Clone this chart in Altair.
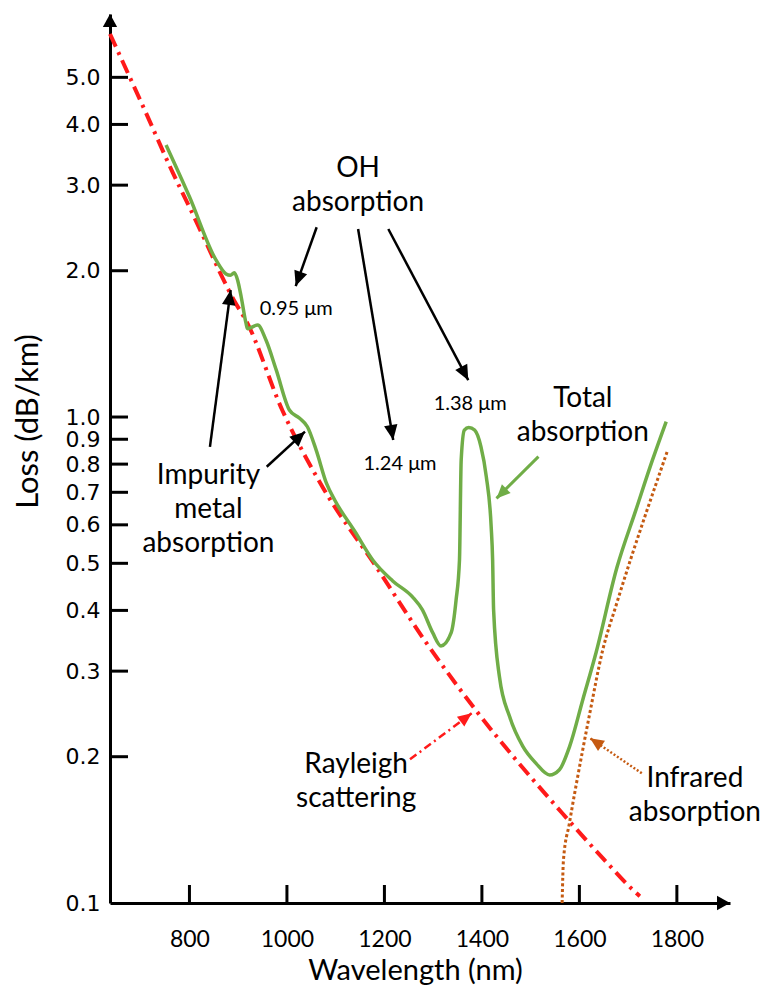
import math
import altair as alt
import pandas as pd

# ---------------- data ----------------
# Total absorption (green curve)
total_nm = [752, 800, 855, 875, 884, 892, 899, 906, 916, 919, 940, 957, 978,
            1005, 1026, 1042, 1060, 1081, 1098, 1140, 1176, 1217, 1258, 1278, 1299,
            1316, 1337, 1347, 1354, 1357.5, 1364, 1373, 1385, 1398, 1409, 1419,
            1422, 1424, 1436, 1457, 1484, 1511, 1539, 1559, 1580, 1607, 1634,
            1677, 1716, 1750, 1778]
total_loss = [3.63, 2.84, 2.10, 1.97, 1.957, 1.98, 1.91, 1.77, 1.56, 1.52, 1.546,
              1.44, 1.25, 1.034, 0.994, 0.955, 0.855, 0.731, 0.675, 0.580, 0.508,
              0.460, 0.426, 0.401, 0.360, 0.338, 0.360, 0.420, 0.508, 0.816, 0.940,
              0.952, 0.940, 0.869, 0.754, 0.595, 0.508, 0.401, 0.292, 0.2416,
              0.210, 0.1938, 0.1834, 0.188, 0.210, 0.262, 0.327, 0.490, 0.644,
              0.816, 0.978]

# Rayleigh scattering (red dash-dot)
rayleigh_nm = [637, 711, 766, 801, 832, 863, 894, 916, 991, 1073, 1183, 1286, 1388,
               1565, 1647, 1716, 1724]
rayleigh_loss = [6.14, 4.22, 3.18, 2.69, 2.31, 1.98, 1.72, 1.58, 1.03, 0.718, 0.492,
                 0.343, 0.249, 0.153, 0.124, 0.105, 0.1033]

# Infrared absorption (brown dotted)
infrared_nm = [1564.6, 1567.3, 1579.6, 1606.8, 1620.6, 1647.9, 1675.4, 1704.7,
               1733.4, 1764.2, 1781.2]
infrared_loss = [0.1, 0.1226, 0.146, 0.2065, 0.2436, 0.3316, 0.410, 0.508, 0.620,
                 0.763, 0.855]

# axis ticks
x_ticks = [800, 1000, 1200, 1400, 1600, 1800]
y_labels = [0.1, 0.2, 0.3, 0.4, 0.5, 0.6, 0.7, 0.8, 0.9, 1.0, 2.0, 3.0, 4.0, 5.0]
y_ticks = [0.2, 0.3, 0.4, 0.5, 0.6, 0.7, 0.8, 0.9, 1.0, 2.0, 3.0, 4.0, 5.0]

# annotations (data coordinates: nm, dB/km)
big_text = ["OH\nabsorption", "Impurity\nmetal\nabsorption", "Total\nabsorption",
            "Rayleigh\nscattering", "Infrared\nabsorption"]
big_text_nm = [1146, 839, 1607, 1142, 1837]
big_text_loss = [3.118, 0.728, 1.048, 0.1851, 0.1733]

small_text = ["0.95 μm", "1.24 μm", "1.38 μm"]
small_text_nm = [1019, 1232, 1376]
small_text_loss = [1.621, 0.778, 1.034]

# arrows: start -> tip
arrow_style = ["black", "black", "black", "black", "black", "green", "red", "brown"]
arrow_nm1 = [1061, 1146, 1208, 842, 958.5, 1516, 1252.5, 1728]
arrow_loss1 = [2.457, 2.437, 2.437, 0.868, 0.790, 0.829, 0.1975, 0.1849]
arrow_nm2 = [1018, 1218, 1372, 884.6, 1037, 1430, 1379, 1622]
arrow_loss2 = [1.860, 0.897, 1.191, 1.825, 0.933, 0.680, 0.2456, 0.2183]

# ---------------- layout helpers ----------------
W, H = 620, 889
XMIN, XMAX = 637, 1909
YMIN, YMAX = 0.1, 6.75

GREEN = "#70ad47"
RED = "#ff1a1a"
BROWN = "#c55a11"
COLORS = {"black": "black", "green": GREEN, "red": RED, "brown": BROWN}


def to_px(nm, loss):
    px = (nm - XMIN) / (XMAX - XMIN) * W
    py = (math.log10(YMAX) - math.log10(loss)) / (math.log10(YMAX) - math.log10(YMIN)) * H
    return px, py


def heading(nm1, l1, nm2, l2):
    x1, y1 = to_px(nm1, l1)
    x2, y2 = to_px(nm2, l2)
    return math.degrees(math.atan2(x2 - x1, -(y2 - y1))) % 360


xs = alt.Scale(domain=[XMIN, XMAX], nice=False, zero=False)
ys = alt.Scale(type="log", domain=[YMIN, YMAX], nice=False)

xax = alt.Axis(values=x_ticks, format="d", ticks=False, tickSize=0, grid=False,
               domainColor="black", domainWidth=3, labelFont="Lato",
               labelFontSize=23, labelColor="black", labelPadding=43,
               labelBaseline="alphabetic", labelFlush=False, labelOverlap=False,
               title="Wavelength (nm)", titleFont="Lato", titleFontSize=29,
               titleFontWeight="normal", titleColor="black", titleX=305,
               titleY=76, titleAlign="center", titleBaseline="alphabetic")
yax = alt.Axis(values=y_labels, format=".1f", ticks=False, tickSize=0, grid=False,
               domainColor="black", domainWidth=3, labelFont="DejaVu Sans",
               labelFontSize=22, labelColor="black", labelPadding=10,
               labelBaseline="middle", labelAlign="right", labelFlush=False,
               labelOverlap=False, labelBound=False,
               title="Loss (dB/km)", titleFont="Lato", titleFontSize=31,
               titleFontWeight="normal", titleColor="black", titleAngle=270,
               titleX=-82, titleY=407, titleAlign="center", titleBaseline="middle")


def X(field="nm"):
    return alt.X(f"{field}:Q", scale=xs, axis=xax)


def Y(field="loss"):
    return alt.Y(f"{field}:Q", scale=ys, axis=yax)


# ---------------- layers ----------------
rayleigh = alt.Chart(pd.DataFrame({"nm": rayleigh_nm, "loss": rayleigh_loss})).mark_line(
    color=RED, strokeWidth=4, strokeDash=[14, 6, 3, 6], interpolate="monotone"
).encode(x=X(), y=Y())

infrared = alt.Chart(pd.DataFrame({"nm": infrared_nm, "loss": infrared_loss})).mark_line(
    color=BROWN, strokeWidth=3, strokeDash=[3, 2.5], interpolate="monotone"
).encode(x=X(), y=Y())

total = alt.Chart(pd.DataFrame({"nm": total_nm, "loss": total_loss})).mark_line(
    color=GREEN, strokeWidth=3.5, interpolate="monotone"
).encode(x=X(), y=Y())

# inward ticks
yticks = alt.Chart(pd.DataFrame({"loss": y_ticks})).mark_rule(
    color="black", strokeWidth=3
).encode(y=Y(), x=alt.value(0), x2=alt.value(18))
xticks = alt.Chart(pd.DataFrame({"nm": x_ticks})).mark_rule(
    color="black", strokeWidth=3
).encode(x=X(), y=alt.value(H), y2=alt.value(H - 18))

# axis arrowheads
axis_heads = alt.Chart(pd.DataFrame({"nm": [XMAX, XMIN], "loss": [YMIN, YMAX],
                                     "ang": [90.0, 0.0]})).mark_point(
    shape="M0,0L0.55,1L-0.55,1Z", filled=True, color="black", opacity=1,
    size=(2 * 13) ** 2, strokeWidth=0
).encode(x=X(), y=Y(), angle=alt.Angle("ang:Q", scale=None))

# annotation arrows
arrows = pd.DataFrame({"style": arrow_style, "nm": arrow_nm1, "loss": arrow_loss1,
                       "nm2": arrow_nm2, "loss2": arrow_loss2})
arrows["ang"] = [heading(a, b, c, d) for a, b, c, d in
                 zip(arrow_nm1, arrow_loss1, arrow_nm2, arrow_loss2)]

arrow_layers = []
line_styles = {
    "black": dict(strokeWidth=2.5),
    "green": dict(strokeWidth=3),
    "red": dict(strokeWidth=2.5, strokeDash=[8, 4, 2, 4]),
    "brown": dict(strokeWidth=2.5, strokeDash=[2, 2]),
}
for style, kw in line_styles.items():
    sub = arrows[arrows["style"] == style]
    arrow_layers.append(
        alt.Chart(sub).mark_rule(color=COLORS[style], **kw).encode(
            x=X(), y=Y(), x2="nm2:Q", y2="loss2:Q")
    )
    arrow_layers.append(
        alt.Chart(sub).mark_point(
            shape="M0,0L0.45,1L-0.45,1Z", filled=True, color=COLORS[style],
            opacity=1, size=900 if style == "black" else 760, strokeWidth=0
        ).encode(x=X("nm2"), y=Y("loss2"), angle=alt.Angle("ang:Q", scale=None))
    )

big_labels = alt.Chart(pd.DataFrame({"nm": big_text_nm, "loss": big_text_loss,
                                     "t": big_text})).mark_text(
    font="Lato", fontSize=28, color="black", align="center", baseline="alphabetic",
    lineBreak="\n", lineHeight=34
).encode(x=X(), y=Y(), text="t:N")

small_labels = alt.Chart(pd.DataFrame({"nm": small_text_nm, "loss": small_text_loss,
                                       "t": small_text})).mark_text(
    font="Lato", fontSize=20, color="black", align="center", baseline="alphabetic"
).encode(x=X(), y=Y(), text="t:N")

chart = alt.layer(
    rayleigh, infrared, total, yticks, xticks, axis_heads, *arrow_layers,
    big_labels, small_labels
).properties(
    width=W, height=H,
    autosize=alt.AutoSizeParams(type="none"),
    padding={"left": 110, "top": 14, "right": 33, "bottom": 82},
    background="white",
).configure_view(stroke=None)

chart.save("out.html", embed_options={"renderer": "svg", "actions": False})
